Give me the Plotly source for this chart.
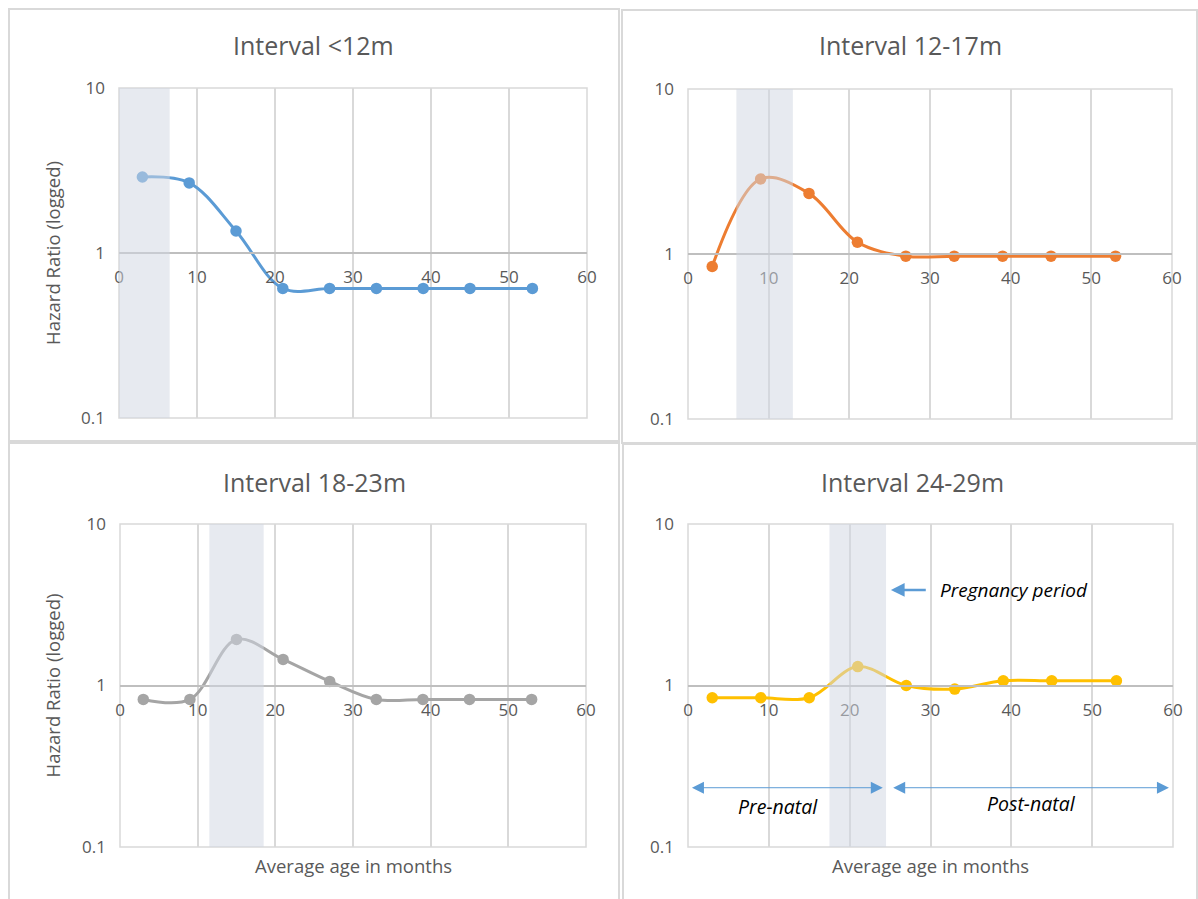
import plotly.graph_objects as go

# ---- data -------------------------------------------------------------
ages = [3, 9, 15, 21, 27, 33, 39, 45, 53]

hr_lt12 = [2.89, 2.66, 1.36, 0.61, 0.61, 0.61, 0.61, 0.61, 0.61]
hr_12_17 = [0.84, 2.85, 2.33, 1.18, 0.97, 0.97, 0.97, 0.97, 0.97]
hr_18_23 = [0.82, 0.82, 1.93, 1.45, 1.06, 0.82, 0.82, 0.82, 0.82]
hr_24_29 = [0.84, 0.84, 0.84, 1.31, 1.00, 0.95, 1.07, 1.07, 1.07]

panel_titles = ["Interval <12m", "Interval 12-17m", "Interval 18-23m", "Interval 24-29m"]
series = [hr_lt12, hr_12_17, hr_18_23, hr_24_29]
colors = ["#5B9BD5", "#ED7D31", "#A5A5A5", "#FFC000"]

# pregnancy window (months) for each interval
preg_start = [0, 6, 11.5, 17.5]
preg_end = [6.5, 13, 18.5, 24.5]

x_ticks = [0, 10, 20, 30, 40, 50, 60]
y_ticks = [0.1, 1, 10]
y_tick_text = ["0.1", "1", "10"]

# ---- layout helpers ----------------------------------------------------
W, H = 1198, 899
FONT = "Open Sans"
GREY_TXT = "#595959"
GRID = "#D9D9D9"


def px_x(p):
    return p / W


def px_y(p):
    return 1 - p / H


# plot areas in pixels: (left, right, top, bottom)
plot_px = [
    (119, 587, 88, 418),
    (688, 1172, 89, 419),
    (120, 586, 524, 847),
    (688, 1173, 524, 847),
]
# outer frames of each panel in pixels: (left, right, top, bottom)
frame_px = [
    (9, 619, 9, 441),
    (622, 1197, 10, 443),
    (9, 619, 443, 905),
    (623, 1197, 444, 905),
]
title_px = [(313, 45), (910, 45), (314, 482), (912, 482)]

fig = go.Figure()
layout = dict(
    width=W,
    height=H,
    margin=dict(l=0, r=0, t=0, b=0, autoexpand=False),
    paper_bgcolor="white",
    plot_bgcolor="white",
    showlegend=False,
    font=dict(family=FONT, color=GREY_TXT),
)
shapes = []
annotations = []

for i in range(4):
    n = "" if i == 0 else str(i + 1)
    xa, ya = "x" + n, "y" + n
    l, r, t, b = plot_px[i]
    ydom = [px_y(b), px_y(t)]
    fig.add_trace(
        go.Scatter(
            x=ages,
            y=series[i],
            mode="lines+markers",
            line=dict(color=colors[i], width=3, shape="spline", smoothing=1.0),
            marker=dict(color=colors[i], size=11.5),
            xaxis=xa,
            yaxis=ya,
            hoverinfo="x+y",
        )
    )
    layout["xaxis" + n] = dict(
        domain=[px_x(l), px_x(r)],
        range=[0, 60],
        anchor="free",
        position=(ydom[0] + ydom[1]) / 2,
        tickvals=x_ticks,
        showgrid=True,
        gridcolor=GRID,
        gridwidth=1.5,
        zeroline=False,
        showline=True,
        linecolor="#BFBFBF",
        linewidth=1.5,
        ticks="",
        tickfont=dict(size=17, color=GREY_TXT),
        ticklabelstandoff=9,
        automargin=False,
    )
    layout["yaxis" + n] = dict(
        domain=ydom,
        type="log",
        range=[-1, 1],
        anchor=xa,
        tickvals=y_ticks,
        ticktext=y_tick_text,
        showgrid=True,
        gridcolor=GRID,
        gridwidth=1.5,
        zeroline=False,
        showline=False,
        ticks="",
        tickfont=dict(size=17, color=GREY_TXT),
        ticklabelstandoff=13,
        automargin=False,
    )
    # outermost gridlines (0/60 months, 0.1/10 hazard) around the plot area
    shapes.append(
        dict(
            type="rect",
            xref=xa + " domain",
            yref=ya + " domain",
            x0=0, x1=1, y0=0, y1=1,
            line=dict(color=GRID, width=1.5),
            fillcolor="rgba(0,0,0,0)",
            layer="below",
        )
    )
    # shaded pregnancy window, drawn translucent over the curve
    shapes.append(
        dict(
            type="rect",
            xref=xa,
            yref=ya + " domain",
            x0=preg_start[i],
            x1=preg_end[i],
            y0=0,
            y1=1,
            fillcolor="rgba(209,215,226,0.52)",
            line=dict(width=0),
            layer="above",
        )
    )
    # panel frame
    fl, fr, ft, fb = frame_px[i]
    shapes.append(
        dict(
            type="rect",
            xref="paper",
            yref="paper",
            x0=px_x(fl),
            x1=px_x(fr),
            y0=px_y(fb),
            y1=px_y(ft),
            line=dict(color="#D9D9D9", width=2),
            fillcolor="rgba(0,0,0,0)",
            layer="below",
        )
    )
    tx, ty = title_px[i]
    annotations.append(
        dict(
            text=panel_titles[i],
            x=px_x(tx),
            y=px_y(ty),
            xref="paper",
            yref="paper",
            showarrow=False,
            font=dict(size=25, color=GREY_TXT),
            xanchor="center",
            yanchor="middle",
        )
    )

# axis titles on the left column / bottom row
for py in [(88 + 418) / 2, (524 + 847) / 2]:
    annotations.append(
        dict(
            text="Hazard Ratio (logged)",
            x=px_x(52),
            y=px_y(py),
            xref="paper",
            yref="paper",
            showarrow=False,
            textangle=-90,
            xanchor="center",
            yanchor="middle",
            font=dict(size=18.5, color=GREY_TXT),
        )
    )
for px in [(120 + 586) / 2, (688 + 1173) / 2]:
    annotations.append(
        dict(
            text="Average age in months",
            x=px_x(px),
            y=px_y(865),
            xref="paper",
            yref="paper",
            showarrow=False,
            xanchor="center",
            yanchor="middle",
            font=dict(size=18.5, color=GREY_TXT),
        )
    )

# pre-/post-natal markers on the last panel (log axis -> log10 coordinates)
ARROW = "#5B9BD5"
annotations += [
    dict(
        x=25.1, y=0.592, ax=29.6, ay=0.592,
        xref="x4", yref="y4", axref="x4", ayref="y4",
        text="", showarrow=True, arrowhead=2, arrowsize=1.1,
        arrowwidth=2.5, arrowcolor=ARROW,
    ),
    dict(
        x=30.9, y=0.592, xref="x4", yref="y4", text="<i>Pregnancy period</i>",
        showarrow=False, xanchor="left", yanchor="middle",
        font=dict(size=19, color="black"),
    ),
    dict(
        x=24.1, y=-0.633, ax=0.3, ay=-0.633,
        xref="x4", yref="y4", axref="x4", ayref="y4",
        text="", showarrow=True, arrowhead=2, arrowside="end+start",
        arrowsize=2.4, arrowwidth=1, arrowcolor=ARROW,
    ),
    dict(
        x=59.5, y=-0.633, ax=25.2, ay=-0.633,
        xref="x4", yref="y4", axref="x4", ayref="y4",
        text="", showarrow=True, arrowhead=2, arrowside="end+start",
        arrowsize=2.4, arrowwidth=1, arrowcolor=ARROW,
    ),
    dict(
        x=11.1, y=-0.75, xref="x4", yref="y4", text="<i>Pre-natal</i>",
        showarrow=False, xanchor="center", yanchor="middle",
        font=dict(size=19.5, color="black"),
    ),
    dict(
        x=42.5, y=-0.732, xref="x4", yref="y4", text="<i>Post-natal</i>",
        showarrow=False, xanchor="center", yanchor="middle",
        font=dict(size=19.5, color="black"),
    ),
]

layout["shapes"] = shapes
layout["annotations"] = annotations
fig.update_layout(**layout)
fig.write_html("out.html")
